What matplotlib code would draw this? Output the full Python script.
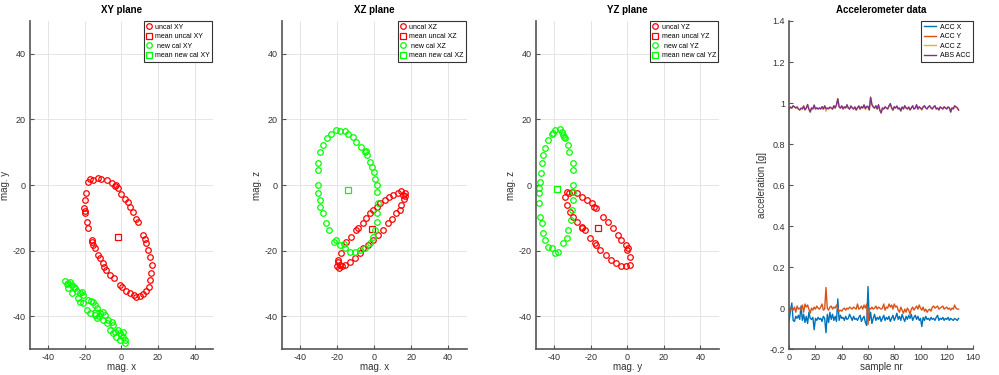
import matplotlib
matplotlib.use("Agg")
import matplotlib.pyplot as plt
import numpy as np

plt.rcParams["font.family"] = ["Liberation Sans", "DejaVu Sans"]
plt.rcParams["axes.unicode_minus"] = False

# ---- magnetometer data ----
xy_uncal_x = [-17.2, -18.3, -19.4, -20.0, -20.5, -20.0, -19.0, -18.0, -16.0, -15.4, -14.5, -12.7,
              -11.8, -10.3, -9.4, -8.5, -6.3, -4.0, -0.9, 0.5, 2.4, 4.9, 6.7, 8.1, 10.0, 11.8,
              13.6, 15.0, 15.7, 16.3, 16.5, 15.7, 14.5, 13.6, 12.7, 11.8, 9.0, 8.1, 6.3, 4.5,
              3.6, 1.8, 0.0, -1.8, -3.6, -5.4, -8.1, -10.9, -13.0, -15.4, -19.8, -15.8, -3.0]
xy_uncal_y = [2.0, 1.0, -2.5, -4.6, -7.1, -8.6, -11.2, -13.2, -16.8, -18.3, -19.3, -21.3,
              -22.3, -23.9, -24.9, -25.9, -27.4, -28.4, -30.5, -31.2, -32.2, -32.8, -33.5, -34.0, -33.8, -33.2,
              -32.3, -31.2, -28.9, -26.9, -24.4, -21.8, -19.8, -17.8, -16.5, -15.2, -11.2, -10.2, -8.1, -6.6,
              -5.1, -4.1, -2.8, -1.0, -0.3, 0.5, 1.5, 2.0, 2.2, 1.5, -7.8, -17.5, 0.0]
xy_uncal_mean = (-1.8, -15.7)

xy_cal_x = [-30.8, -29.0, -27.1, -29.0, -25.3, -24.4, -27.1, -22.6, -21.7, -20.8, -23.5, -22.6,
            -20.8, -18.0, -19.0, -17.2, -15.4, -14.5, -13.6, -14.5, -13.6, -11.8, -10.0, -9.1,
            -10.0, -8.1, -7.2, -5.4, -4.5, -6.3, -3.6, -1.8, -0.9, 0.0, 0.9, 1.8, 1.8, -0.9,
            -2.7, -4.5, 0.9, -30.0, -28.2, -26.0, -16.5, -12.5]
xy_cal_y = [-29.2, -29.7, -30.5, -31.5, -31.5, -32.2, -33.0, -33.0, -32.5, -33.5, -34.5, -35.5,
            -36.0, -35.0, -38.0, -39.0, -35.5, -36.5, -37.6, -39.6, -40.6, -39.0, -38.6, -39.6,
            -41.1, -42.1, -41.1, -41.6, -42.6, -44.2, -44.7, -44.2, -45.2, -45.7, -46.2, -47.2, -48.2, -47.2,
            -46.2, -45.2, -44.7, -30.0, -29.5, -31.0, -35.2, -40.0]
xy_cal_mean = (-14.0, -39.0)

xz_uncal_x = [-20.0, -18.6, -17.2, -19.5, -17.7, -15.0, -12.3, -9.9, -8.7, -6.0, -4.2, -2.4,
              -0.5, 1.3, 3.4, 5.8, 8.1, 10.3, 13.0, 14.8, 16.6, 16.1, 14.8, 13.9, 12.1, 9.9,
              7.6, 4.9, 2.2, -0.5, -3.3, -6.0, -7.8, -10.5, -13.2, -15.9, -19.8, -19.0, 15.5, 16.8]
xz_uncal_y = [-24.8, -24.3, -24.8, -22.8, -20.8, -17.2, -15.7, -13.7, -13.2, -11.7, -10.1, -8.6,
              -7.6, -6.6, -5.6, -4.6, -3.5, -3.0, -2.3, -1.7, -2.3, -4.1, -6.1, -7.6, -8.6, -10.4,
              -11.7, -13.7, -15.2, -16.7, -18.3, -19.3, -20.8, -22.3, -23.3, -24.3, -23.5, -25.2, -3.0, -3.2]
xz_uncal_mean = (-1.4, -13.5)

xz_cal_x = [-20.8, -18.6, -15.9, -14.1, -11.4, -9.6, -6.9, -5.1, -3.8, -2.4, -1.4, -0.2,
            0.4, 1.3, 1.8, 2.2, 1.8, 1.3, 0.4, -0.5, -2.4, -5.1, -7.8, -10.5, -13.2, -15.9,
            -18.6, -20.8, -24.4, -25.9, -27.7, -29.1, -29.5, -30.4, -30.4, -30.4, -30.4, -29.1,
            -27.7, -25.5, -23.1, -21.5, -16.5, -4.5]
xz_cal_y = [16.7, 16.5, 16.4, 15.7, 14.7, 13.2, 11.7, 10.1, 9.1, 7.1, 5.6, 4.1,
            2.0, 0.0, -2.0, -5.6, -8.6, -11.2, -13.7, -15.7, -17.7, -19.3, -19.8, -20.3, -20.3, -19.3,
            -18.3, -16.7, -13.7, -11.7, -8.6, -6.6, -4.6, -2.5, 0.0, 4.6, 6.6, 10.1,
            12.2, 14.2, 15.7, -17.5, -18.0, 10.5]
xz_cal_mean = (-14.1, -1.5)

yz_uncal_x = [-34.1, -33.2, -30.5, -27.8, -25.0, -22.3, -19.6, -16.9, -13.2, -10.5, -7.8, -5.1,
              -3.3, -0.9, 0.4, 1.6, 1.3, -0.5, -3.3, -6.0, -8.7, -11.8, -15.1, -17.8, -20.5, -23.2,
              -25.0, -27.8, -29.6, -31.4, -33.2, -24.7, -16.9, -32.0, 0.0, -18.5]
yz_uncal_y = [-3.5, -2.0, -2.0, -2.3, -3.5, -4.6, -5.6, -7.1, -9.6, -11.2, -13.2, -15.2,
              -16.7, -18.3, -19.3, -21.8, -24.3, -24.8, -24.8, -23.8, -22.8, -21.3, -19.8, -17.7, -16.2, -13.7,
              -12.7, -11.2, -9.6, -8.1, -6.1, -13.2, -18.3, -2.5, -19.8, -6.8]
yz_uncal_mean = (-16.0, -13.2)

yz_cal_x = [-48.6, -47.7, -47.4, -46.8, -45.9, -45.0, -43.2, -41.4, -39.6, -36.8, -35.9, -35.0,
            -34.1, -32.3, -31.8, -29.9, -29.6, -29.6, -29.9, -29.9, -30.5, -31.0, -32.3, -33.2,
            -35.0, -37.7, -39.6, -41.4, -43.2, -45.0, -45.9, -46.8, -47.7, -48.1, -48.1, -40.5, -34.5]
yz_cal_y = [-1.0, 1.0, 3.6, 6.6, 9.1, 11.2, 13.7, 15.7, 16.7, 17.2, 16.2, 15.2,
            14.2, 12.2, 10.1, 6.6, 4.6, 0.0, -2.0, -4.6, -7.6, -10.6, -13.7, -16.2,
            -17.7, -20.3, -20.8, -19.3, -18.8, -16.7, -14.7, -11.7, -9.6, -5.6, -2.5, 16.0, 14.8]
yz_cal_mean = (-38.7, -1.3)

# ---- accelerometer data, 130 samples ----
acc_x = [-0.06, -0.01, 0.025, -0.06, -0.065, -0.04, -0.05, -0.035, -0.055, 0.01,
         -0.06, -0.03, -0.07, -0.04, -0.075, -0.02, -0.05, -0.055, -0.045, -0.105,
         -0.05, -0.06, -0.045, -0.055, -0.05, -0.065, -0.04, -0.05, -0.12, -0.03,
         -0.07, -0.02, -0.055, -0.03, -0.06, -0.04, -0.065, 0.045, -0.06, -0.035,
         -0.05, -0.045, -0.06, -0.04, -0.055, -0.05, -0.03, -0.045, -0.06, -0.04,
         -0.055, -0.05, -0.06, -0.045, -0.035, -0.065, -0.05, -0.04, -0.07, -0.085,
         0.105, -0.06, -0.02, -0.075, -0.05, -0.03, -0.06, -0.045, -0.055, -0.04,
         -0.065, -0.05, -0.035, -0.06, -0.045, -0.055, -0.04, -0.065, -0.05, -0.035,
         -0.06, -0.045, -0.025, -0.055, -0.04, -0.06, -0.03, -0.05, -0.065, -0.04,
         -0.055, -0.035, -0.05, -0.03, -0.06, -0.045, -0.035, -0.055, -0.04, -0.06,
         -0.05, -0.09, -0.045, -0.06, -0.04, -0.055, -0.05, -0.06, -0.045, -0.055,
         -0.05, -0.06, -0.045, -0.035, -0.06, -0.05, -0.055, -0.045, -0.06, -0.05,
         -0.055, -0.045, -0.06, -0.05, -0.055, -0.06, -0.05, -0.055, -0.06, -0.05]
acc_y = [-0.005, -0.01, 0.0, -0.01, 0.005, -0.02, 0.01, -0.005, 0.0, -0.01,
         0.015, -0.02, 0.02, 0.005, 0.015, -0.005, -0.025, 0.0, -0.01, 0.005,
         -0.005, 0.01, 0.0, -0.005, 0.005, 0.02, -0.01, -0.005, 0.1, 0.0,
         -0.01, 0.005, 0.01, -0.005, 0.005, 0.0, 0.015, 0.0, -0.015, -0.01,
         -0.015, -0.005, 0.0, -0.01, 0.0, -0.005, 0.005, 0.0, -0.005, 0.005,
         0.0, -0.005, 0.02, -0.005, 0.0, 0.01, -0.005, 0.015, 0.0, 0.02,
         -0.08, 0.0, -0.005, 0.005, -0.005, 0.0, 0.01, -0.005, 0.005, 0.0,
         -0.005, 0.0, 0.02, -0.01, 0.005, 0.0, 0.02, 0.005, 0.015, -0.005,
         0.02, 0.005, 0.01, -0.01, -0.02, 0.005, -0.01, -0.025, -0.005, -0.02,
         0.0, -0.01, -0.03, -0.005, 0.005, -0.01, 0.0, 0.01, -0.005, 0.015,
         0.0, -0.01, 0.005, -0.015, -0.005, -0.02, -0.01, -0.005, -0.015, 0.005,
         0.01, 0.0, 0.005, 0.01, -0.005, 0.0, 0.005, 0.01, -0.005, 0.0,
         0.005, -0.005, 0.0, -0.01, 0.0, -0.005, 0.015, 0.0, -0.005, -0.005]
acc_z = [0.97, 0.98, 0.975, 0.985, 0.98, 0.975, 0.98, 0.97, 0.965, 0.975,
         0.97, 0.985, 0.965, 0.975, 0.99, 0.97, 0.955, 0.975, 0.97, 0.985,
         0.97, 0.975, 0.97, 0.975, 0.97, 0.98, 0.97, 0.985, 0.96, 0.975,
         0.97, 0.98, 0.975, 0.97, 0.985, 0.975, 0.99, 1.02, 0.98, 0.975,
         0.985, 0.97, 0.98, 0.975, 0.99, 0.975, 0.97, 0.985, 0.975, 0.97,
         0.98, 0.965, 0.975, 0.985, 0.97, 0.98, 0.975, 0.99, 0.97, 0.98,
         0.975, 0.965, 1.028, 0.99, 0.98, 0.975, 0.985, 0.97, 0.99, 0.965,
         0.95, 0.975, 0.97, 0.98, 0.975, 0.97, 0.985, 0.995, 0.975, 0.965,
         0.98, 0.975, 0.985, 0.97, 0.975, 0.96, 0.98, 0.97, 0.985, 0.975,
         0.97, 0.98, 0.965, 0.975, 0.985, 0.97, 0.975, 0.99, 0.97, 0.98,
         0.975, 0.965, 0.98, 0.985, 0.975, 0.97, 0.98, 0.985, 0.975, 0.97,
         0.98, 0.985, 0.97, 0.975, 0.965, 0.98, 0.975, 0.97, 0.98, 0.975,
         0.97, 0.98, 0.975, 0.955, 0.975, 0.97, 0.985, 0.98, 0.975, 0.965]

sample = np.arange(len(acc_x))
abs_acc = np.sqrt(np.array(acc_x) ** 2 + np.array(acc_y) ** 2 + np.array(acc_z) ** 2)

AXCOL = "#555555"
TXTCOL = "#333333"
RED = "#ff0000"
GREEN = "#00ff00"


def style_axes(ax):
    for s in ["top", "right"]:
        ax.spines[s].set_visible(False)
    for s in ["left", "bottom"]:
        ax.spines[s].set_color(AXCOL)
        ax.spines[s].set_linewidth(1.2)
    ax.tick_params(direction="in", length=3, width=0.8, color=AXCOL,
                   labelsize=6.5, labelcolor=TXTCOL, pad=3)


def add_legend(ax, hl):
    leg = ax.legend(loc="upper right", fontsize=5, frameon=True, fancybox=False,
                    borderpad=0.35, labelspacing=0.35, handlelength=hl, handletextpad=0.5,
                    borderaxespad=0.05)
    leg.get_frame().set_edgecolor("#333333")
    leg.get_frame().set_linewidth(0.8)
    leg.get_frame().set_alpha(1)


def plane(ax, ux, uy, umean, cx, cy, cmean, title, xlabel, ylabel, tag):
    ax.plot(ux, uy, "o", mfc="none", mec=RED, ms=4, mew=0.9, label="uncal " + tag)
    ax.plot([umean[0]], [umean[1]], "s", mfc="none", mec=RED, ms=4.5, mew=0.9,
            label="mean uncal " + tag)
    ax.plot(cx, cy, "o", mfc="none", mec=GREEN, ms=4, mew=0.9, label=" new cal " + tag)
    ax.plot([cmean[0]], [cmean[1]], "s", mfc="none", mec=GREEN, ms=4.5, mew=0.9,
            label="mean new cal " + tag)
    ax.set_xlim(-50, 50)
    ax.set_ylim(-50, 50)
    ax.set_xticks([-40, -20, 0, 20, 40])
    ax.set_yticks([-40, -20, 0, 20, 40])
    ax.grid(True, color="#e0e0e0", linewidth=0.6)
    ax.set_axisbelow(True)
    style_axes(ax)
    ax.set_title(title, fontsize=7, fontweight="bold", pad=5.5)
    ax.set_xlabel(xlabel, fontsize=7, color=TXTCOL, labelpad=0)
    ax.set_ylabel(ylabel, fontsize=7, color=TXTCOL, labelpad=2)
    add_legend(ax, 0.8)


fig = plt.figure(figsize=(9.99, 3.75), dpi=100)
bottom, height = 0.069, 0.875
ax1 = fig.add_axes([0.030, bottom, 0.183, height])
ax2 = fig.add_axes([0.282, bottom, 0.185, height])
ax3 = fig.add_axes([0.5365, bottom, 0.183, height])
ax4 = fig.add_axes([0.790, bottom, 0.184, height])

plane(ax1, xy_uncal_x, xy_uncal_y, xy_uncal_mean, xy_cal_x, xy_cal_y, xy_cal_mean,
      "XY plane", "mag. x", "mag. y", "XY")
plane(ax2, xz_uncal_x, xz_uncal_y, xz_uncal_mean, xz_cal_x, xz_cal_y, xz_cal_mean,
      "XZ plane", "mag. x", "mag. z", "XZ")
plane(ax3, yz_uncal_x, yz_uncal_y, yz_uncal_mean, yz_cal_x, yz_cal_y, yz_cal_mean,
      "YZ plane", "mag. y", "mag. z", "YZ")

ax4.plot(sample, acc_x, color="#0072BD", lw=1.0, label="ACC X")
ax4.plot(sample, acc_y, color="#D95319", lw=1.0, label="ACC Y")
ax4.plot(sample, acc_z, color="#EDB120", lw=1.0, label="ACC Z")
ax4.plot(sample, abs_acc, color="#7E2F8E", lw=1.0, label="ABS ACC")
ax4.set_xlim(0, 140)
ax4.set_ylim(-0.2, 1.4)
ax4.set_xticks(range(0, 141, 20))
ax4.set_yticks([-0.2, 0, 0.2, 0.4, 0.6, 0.8, 1.0, 1.2, 1.4])
ax4.set_yticklabels(["-0.2", "0", "0.2", "0.4", "0.6", "0.8", "1", "1.2", "1.4"])
style_axes(ax4)
ax4.set_title("Accelerometer data", fontsize=7, fontweight="bold", pad=5.5)
ax4.set_xlabel("sample nr", fontsize=7, color=TXTCOL, labelpad=0)
ax4.set_ylabel("acceleration [g]", fontsize=7, color=TXTCOL, labelpad=2)
add_legend(ax4, 1.8)

plt.savefig("out.png", dpi=100)
